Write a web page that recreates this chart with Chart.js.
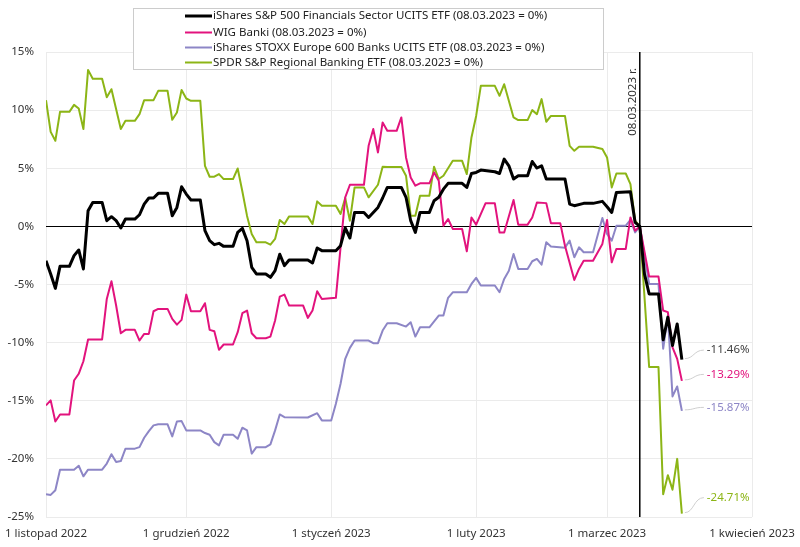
<!DOCTYPE html>
<html>
<head>
<meta charset="utf-8">
<script src="https://cdn.jsdelivr.net/npm/chart.js@4/dist/chart.umd.min.js"></script>
<style>
  html, body { margin: 0; padding: 0; background: #fff; }
  #wrap { width: 800px; height: 547px; }
</style>
</head>
<body>
<div id="wrap"><canvas id="c" width="800" height="547"></canvas></div>
<script>
// ---- data (x = days since 1 Nov 2022, y = % change vs 08.03.2023) ----
const xTickDays = [0, 30, 61, 92, 120, 151];
const xTickLabels = ['1 listopad 2022', '1 grudzień 2022', '1 styczeń 2023', '1 luty 2023', '1 marzec 2023', '1 kwiecień 2023'];
const yTicks = [-25, -20, -15, -10, -5, 0, 5, 10, 15];
const seriesNames = [
  'iShares S&P 500 Financials Sector UCITS ETF (08.03.2023 = 0%)',
  'WIG Banki (08.03.2023 = 0%)',
  'iShares STOXX Europe 600 Banks UCITS ETF (08.03.2023 = 0%)',
  'SPDR S&P Regional Banking ETF (08.03.2023 = 0%)'
];
const markerDay = 127;
const markerLabel = '08.03.2023 r.';

const financials = [[0,-2.95],[1,-4.09],[2,-5.33],[3,-3.44],[5,-3.44],[6,-2.52],[7,-2.03],[8,-3.66],[9,1.35],[10,2.06],[12,2.06],[13,0.49],[14,0.83],[15,0.49],[16,-0.14],[17,0.63],[19,0.63],[20,1.0],[21,1.92],[22,2.44],[23,2.44],[24,2.84],[26,2.84],[27,0.92],[28,1.63],[29,3.41],[30,2.78],[31,2.27],[33,2.27],[34,-0.37],[35,-1.23],[36,-1.57],[37,-1.46],[38,-1.72],[40,-1.72],[41,-0.52],[42,-0.17],[43,-1.23],[44,-3.52],[45,-4.09],[47,-4.09],[48,-4.38],[49,-3.8],[50,-2.4],[51,-3.38],[52,-2.89],[56,-2.89],[57,-3.15],[58,-1.86],[59,-2.09],[62,-2.09],[63,-1.66],[64,-0.14],[65,-1.0],[66,1.2],[68,1.2],[69,0.77],[71,1.63],[72,2.44],[73,3.35],[76,3.35],[77,2.5],[78,0.49],[79,-0.52],[80,1.2],[82,1.2],[83,2.2],[84,2.5],[85,3.2],[86,3.7],[89,3.7],[90,3.35],[91,4.55],[92,4.64],[93,4.84],[96,4.7],[97,4.55],[98,5.79],[99,5.21],[100,4.07],[101,4.36],[103,4.36],[104,5.58],[105,5.02],[106,5.21],[107,4.07],[111,4.07],[112,1.92],[113,1.78],[115,1.98],[117,1.98],[119,2.15],[120,1.69],[121,1.2],[122,2.92],[125,2.98],[126,0.34],[127,0],[128,-4.09],[129,-5.81],[131,-5.81],[132,-9.76],[133,-7.82],[134,-10.25],[135,-8.39],[136,-11.46]];

const wigBanki = [[0,-15.4],[1,-14.97],[2,-16.78],[3,-16.18],[5,-16.18],[6,-13.26],[7,-12.68],[8,-11.6],[9,-9.73],[12,-9.73],[13,-6.24],[14,-4.72],[15,-6.81],[16,-9.19],[17,-8.9],[19,-8.9],[20,-9.82],[21,-9.25],[22,-9.25],[23,-7.3],[24,-7.1],[26,-7.1],[27,-7.96],[28,-8.45],[29,-8.04],[30,-5.87],[31,-7.3],[33,-7.3],[34,-6.61],[35,-8.9],[36,-9.02],[37,-10.62],[38,-10.16],[40,-10.16],[41,-9.1],[42,-7.47],[43,-7.24],[44,-9.19],[45,-9.62],[47,-9.62],[48,-9.48],[49,-8.1],[50,-6.04],[51,-5.87],[52,-6.81],[55,-6.81],[56,-7.87],[57,-7.24],[58,-5.58],[59,-6.24],[62,-6.15],[63,-1.8],[64,2.5],[65,3.58],[68,3.58],[69,6.93],[70,8.37],[71,6.36],[72,8.94],[73,8.22],[75,8.22],[76,9.37],[77,5.93],[78,4.21],[79,3.5],[80,3.7],[82,3.7],[83,4.64],[84,3.93],[85,0.06],[86,0.63],[87,-0.22],[89,-0.22],[90,-2.15],[91,0.77],[92,0.15],[94,1.98],[96,1.98],[97,-0.52],[98,-0.52],[100,2.27],[101,0.15],[103,0.15],[104,0.77],[105,2.06],[107,2.0],[108,0.26],[110,0.26],[111,-1.66],[113,-4.61],[114,-3.66],[115,-2.95],[117,-2.95],[119,-1.51],[120,0.55],[121,-3.09],[122,-1.94],[124,-1.94],[125,0.77],[126,-0.37],[127,0],[129,-4.32],[131,-4.32],[132,-7.24],[133,-7.38],[134,-10.4],[135,-11.4],[136,-13.29]];

const stoxxBanks = [[0,-23.05],[1,-23.1],[2,-22.7],[3,-20.93],[6,-20.93],[7,-20.59],[8,-21.5],[9,-20.93],[12,-20.93],[13,-20.4],[14,-19.6],[15,-20.27],[16,-20.19],[17,-19.12],[19,-19.12],[20,-18.99],[21,-18.18],[22,-17.61],[23,-17.12],[24,-17.03],[26,-17.03],[27,-18.07],[28,-16.78],[29,-16.75],[30,-17.55],[33,-17.55],[34,-17.78],[35,-17.92],[36,-18.56],[37,-18.84],[38,-17.92],[40,-17.92],[41,-18.27],[42,-17.32],[43,-17.55],[44,-19.55],[45,-18.99],[47,-18.99],[48,-18.75],[49,-17.55],[50,-16.18],[51,-16.41],[56,-16.44],[58,-16.07],[59,-16.69],[61,-16.69],[62,-15.26],[63,-13.54],[64,-11.39],[65,-10.45],[66,-9.82],[69,-9.82],[70,-10.05],[71,-10.05],[72,-8.96],[73,-8.33],[75,-8.33],[77,-8.62],[78,-8.25],[79,-9.48],[80,-8.68],[82,-8.68],[84,-7.67],[85,-7.67],[86,-6.15],[87,-5.67],[90,-5.67],[91,-4.95],[92,-4.43],[93,-5.09],[96,-5.09],[97,-5.67],[98,-4.52],[99,-3.81],[100,-2.37],[101,-3.66],[103,-3.66],[104,-3.0],[105,-2.8],[106,-3.29],[107,-1.37],[108,-1.74],[111,-1.83],[112,-1.23],[113,-2.66],[114,-1.8],[115,-2.23],[117,-2.23],[119,0.72],[120,-0.65],[121,-1.23],[122,0.06],[124,0.06],[125,0.55],[126,-0.52],[127,0],[129,-4.95],[131,-4.95],[132,-10.53],[133,-7.67],[134,-14.63],[135,-13.77],[136,-15.87]];

const regionalBanks = [[0,10.86],[1,8.13],[2,7.36],[3,9.85],[5,9.85],[6,10.45],[7,10.14],[8,8.37],[9,13.46],[10,12.7],[12,12.7],[13,11.1],[14,11.8],[16,8.37],[17,9.08],[19,9.08],[20,9.65],[21,10.86],[23,10.86],[24,11.66],[26,11.66],[27,9.17],[28,9.8],[29,11.74],[30,11.0],[31,10.8],[33,10.8],[34,5.21],[35,4.27],[36,4.27],[37,4.5],[38,4.07],[40,4.07],[41,4.98],[42,3.0],[43,0.9],[44,-0.65],[45,-1.37],[47,-1.37],[48,-1.57],[49,-1.08],[50,0.55],[51,0.2],[52,0.86],[56,0.86],[57,0.2],[58,2.15],[59,1.78],[62,1.78],[63,1.07],[64,2.44],[65,0.49],[66,3.35],[68,3.35],[69,2.5],[71,3.58],[72,5.13],[73,5.1],[76,5.1],[77,4.36],[78,0.92],[79,0.92],[80,2.64],[82,2.64],[83,5.13],[84,4.07],[85,4.36],[87,5.64],[89,5.64],[90,4.5],[91,7.65],[92,9.5],[93,12.09],[96,12.09],[97,11.23],[98,12.23],[100,9.37],[101,9.14],[103,9.14],[104,10.0],[105,9.65],[106,10.95],[107,9.0],[108,9.5],[111,9.5],[112,6.93],[113,6.5],[114,6.85],[117,6.85],[119,6.65],[120,5.93],[121,3.35],[122,4.55],[124,4.55],[125,3.64],[126,0.49],[127,0],[129,-12.1],[131,-12.1],[132,-23.05],[133,-21.4],[134,-22.65],[135,-20.0],[136,-24.71]];

// ---- styles ----
const FONT = '"Noto Sans", "Open Sans", sans-serif';
const FSIZE = 11.5;
const seriesColors = ['#000000', '#e2137d', '#8d86c6', '#8cb516'];
const labelColors = ['#404040', '#e2137d', '#8d86c6', '#8cb516'];
const seriesWidths = [3, 2, 2, 2];
const endLabelShift = [-9.5, -6.5, -3.5, -16];

const toPoints = arr => arr.map(p => ({ x: p[0], y: p[1] }));
const allSeries = [financials, wigBanki, stoxxBanks, regionalBanks];

const datasets = allSeries.map((s, i) => ({
  label: seriesNames[i],
  data: toPoints(s),
  borderColor: seriesColors[i],
  backgroundColor: seriesColors[i],
  borderWidth: seriesWidths[i],
  pointRadius: 0,
  pointHoverRadius: 0,
  tension: 0,
  fill: false,
  borderJoinStyle: 'round'
}));

const overlayPlugin = {
  id: 'overlay',
  afterDatasetsDraw(chart) {
    const ctx = chart.ctx;
    const xs = chart.scales.x;
    const area = chart.chartArea;
    // marker line
    const mx = xs.getPixelForValue(markerDay);
    ctx.save();
    ctx.strokeStyle = '#000';
    ctx.lineWidth = 1.5;
    ctx.beginPath();
    ctx.moveTo(mx, area.top);
    ctx.lineTo(mx, area.bottom);
    ctx.stroke();
    ctx.translate(mx - 7.5, area.top + 16);
    ctx.rotate(-Math.PI / 2);
    ctx.fillStyle = '#333';
    ctx.font = FSIZE + 'px ' + FONT;
    ctx.textAlign = 'right';
    ctx.textBaseline = 'middle';
    ctx.fillText(markerLabel, 0, 0);
    ctx.restore();

    // end labels
    ctx.save();
    ctx.font = FSIZE + 'px ' + FONT;
    ctx.textBaseline = 'middle';
    ctx.textAlign = 'left';
    chart.data.datasets.forEach((ds, i) => {
      const meta = chart.getDatasetMeta(i);
      const pt = meta.data[meta.data.length - 1];
      const val = ds.data[ds.data.length - 1].y;
      const px = pt.x, py = pt.y;
      const ly = py + endLabelShift[i];
      ctx.strokeStyle = '#cfcfcf';
      ctx.lineWidth = 1;
      ctx.beginPath();
      ctx.moveTo(px + 3, py - 1);
      ctx.bezierCurveTo(px + 12, py - 1, px + 12, ly, px + 22, ly);
      ctx.stroke();
      ctx.fillStyle = labelColors[i];
      ctx.fillText(val.toFixed(2) + '%', px + 25, ly);
    });
    ctx.restore();

    // legend box
    ctx.save();
    const bx = 133.5, by = 8.5, bw = 470, bh = 61;
    ctx.fillStyle = '#fff';
    ctx.fillRect(bx, by, bw, bh);
    ctx.strokeStyle = '#cccccc';
    ctx.lineWidth = 1;
    ctx.strokeRect(bx, by, bw, bh);
    ctx.font = FSIZE + 'px ' + FONT;
    ctx.textBaseline = 'middle';
    ctx.textAlign = 'left';
    const rows = [16, 32.5, 47.5, 62.5];
    chart.data.datasets.forEach((ds, i) => {
      ctx.strokeStyle = ds.borderColor;
      ctx.lineWidth = ds.borderWidth;
      ctx.beginPath();
      ctx.moveTo(185, rows[i]);
      ctx.lineTo(212, rows[i]);
      ctx.stroke();
      ctx.fillStyle = '#222';
      ctx.fillText(ds.label, 213, rows[i]);
    });
    ctx.restore();
  }
};

new Chart(document.getElementById('c'), {
  type: 'line',
  data: { datasets },
  plugins: [overlayPlugin],
  options: {
    responsive: false,
    animation: false,
    devicePixelRatio: 1,
    layout: { padding: { left: 0, right: 48, top: 52, bottom: 0 } },
    plugins: { legend: { display: false }, tooltip: { enabled: false } },
    scales: {
      x: {
        type: 'linear',
        min: 0,
        max: 151,
        afterBuildTicks: s => { s.ticks = xTickDays.map(v => ({ value: v })); },
        afterFit: s => { s.height = 30; s.paddingLeft = 0; s.paddingRight = 0; },
        ticks: {
          autoSkip: false,
          maxRotation: 0,
          padding: 10,
          color: '#333',
          font: { family: FONT, size: FSIZE },
          callback: v => xTickLabels[xTickDays.indexOf(v)]
        },
        grid: { color: '#ebebeb', drawTicks: false },
        border: { display: false }
      },
      y: {
        min: -25,
        max: 15,
        afterBuildTicks: s => { s.ticks = yTicks.map(v => ({ value: v })); },
        afterFit: s => { s.width = 46; s.paddingTop = 0; s.paddingBottom = 0; },
        ticks: {
          padding: 12,
          color: '#333',
          font: { family: FONT, size: FSIZE },
          callback: v => v + '%'
        },
        grid: {
          color: c => (c.tick && c.tick.value === 0) ? '#000' : '#ebebeb',
          drawTicks: false
        },
        border: { display: false }
      }
    }
  }
});
</script>
</body>
</html>
